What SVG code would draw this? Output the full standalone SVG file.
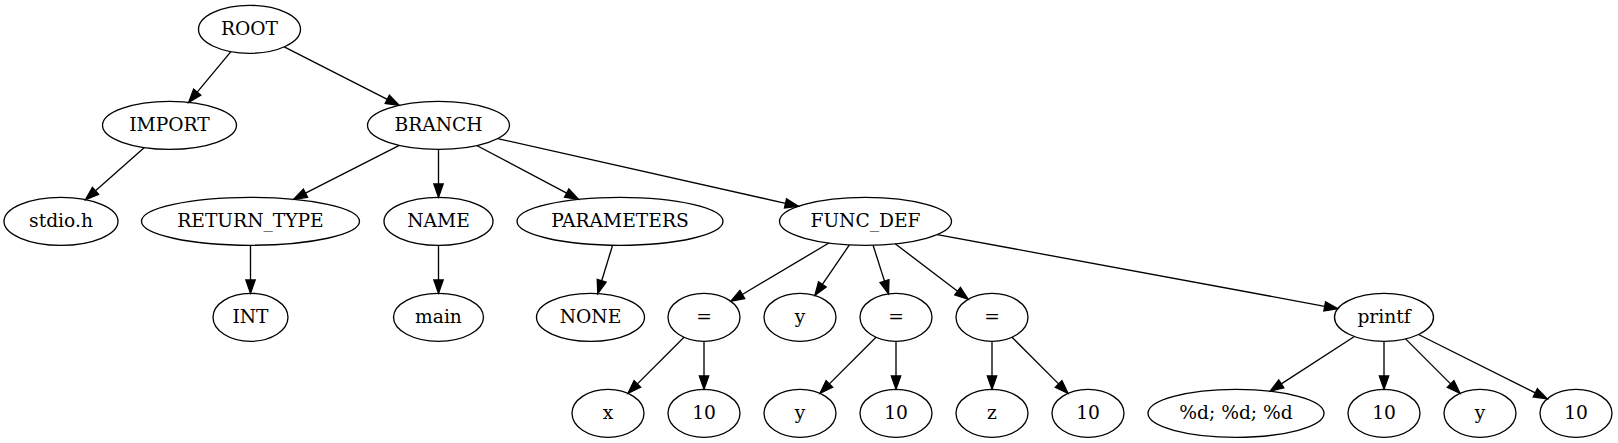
<svg xmlns="http://www.w3.org/2000/svg" width="1618" height="443" viewBox="0 0 1618 443">
<style>
ellipse{fill:none;stroke:#000;stroke-width:1.33}
text{font-family:"DejaVu Serif","Liberation Serif",serif;font-size:18.67px;text-anchor:middle;fill:#000}
.e line{stroke:#000;stroke-width:1.33;marker-end:url(#ah)}
</style>
<defs>
<marker id="ah" markerUnits="userSpaceOnUse" viewBox="-1 -6 16 12" markerWidth="16" markerHeight="12" refX="0" refY="0" orient="auto" overflow="visible">
<path d="M0,-4.67 L13.33,0 L0,4.67 z" fill="#000" stroke="#000" stroke-width="1.33"/>
</marker>
</defs>
<rect width="1618" height="443" fill="#fff"/>
<g class="e" id="edges">
<line x1="230.9" y1="51.6" x2="197.2" y2="92.1"/>
<line x1="284.2" y1="46.9" x2="387.3" y2="99.3"/>
<line x1="144.4" y1="147.6" x2="95.5" y2="190.8"/>
<line x1="399.3" y1="145.3" x2="305.5" y2="193.2"/>
<line x1="438.5" y1="149.3" x2="438.5" y2="184"/>
<line x1="476.7" y1="145.5" x2="566.7" y2="193.1"/>
<line x1="497.6" y1="138.6" x2="785.5" y2="203.3"/>
<line x1="612.6" y1="245.2" x2="601.7" y2="280.8"/>
<line x1="250.5" y1="245.3" x2="250.5" y2="280"/>
<line x1="438.5" y1="245.3" x2="438.5" y2="280"/>
<line x1="828.9" y1="243.0" x2="742.3" y2="294.5"/>
<line x1="849.4" y1="244.9" x2="822.4" y2="284.4"/>
<line x1="873.1" y1="245.2" x2="884.5" y2="281.1"/>
<line x1="895.2" y1="243.8" x2="957.6" y2="291.2"/>
<line x1="937.2" y1="234.6" x2="1324.7" y2="306.3"/>
<line x1="684.0" y1="337.3" x2="637.4" y2="383.9"/>
<line x1="704" y1="341.3" x2="704" y2="376"/>
<line x1="876.0" y1="337.3" x2="829.4" y2="383.9"/>
<line x1="896" y1="341.3" x2="896" y2="376"/>
<line x1="992" y1="341.3" x2="992" y2="376"/>
<line x1="1012.0" y1="337.3" x2="1058.6" y2="383.9"/>
<line x1="1354.4" y1="336.5" x2="1281.3" y2="383.9"/>
<line x1="1384" y1="341.3" x2="1384" y2="376"/>
<line x1="1405.6" y1="338.9" x2="1450.6" y2="383.9"/>
<line x1="1418.5" y1="334.5" x2="1535.3" y2="392.9"/>
</g>
<g id="root"><ellipse cx="249.5" cy="29.3" rx="51" ry="24"/><text x="249.5" y="35.3">ROOT</text></g>
<g id="import"><ellipse cx="169.5" cy="125.3" rx="67" ry="24"/><text x="169.5" y="131.3">IMPORT</text></g>
<g id="branch"><ellipse cx="438.5" cy="125.3" rx="71" ry="24"/><text x="438.5" y="131.3">BRANCH</text></g>
<g id="stdio"><ellipse cx="61" cy="221.3" rx="57" ry="24"/><text x="61" y="227.3">stdio.h</text></g>
<g id="return_type"><ellipse cx="250.5" cy="221.3" rx="109" ry="24"/><text x="250.5" y="227.3">RETURN_TYPE</text></g>
<g id="name"><ellipse cx="438.5" cy="221.3" rx="54.5" ry="24"/><text x="438.5" y="227.3">NAME</text></g>
<g id="parameters"><ellipse cx="620" cy="221.3" rx="103" ry="24"/><text x="620" y="227.3">PARAMETERS</text></g>
<g id="func_def"><ellipse cx="865.5" cy="221.3" rx="86" ry="24"/><text x="865.5" y="227.3">FUNC_DEF</text></g>
<g id="int"><ellipse cx="250.5" cy="317.3" rx="37.5" ry="24"/><text x="250.5" y="323.3">INT</text></g>
<g id="main"><ellipse cx="438.5" cy="317.3" rx="45" ry="24"/><text x="438.5" y="323.3">main</text></g>
<g id="none"><ellipse cx="590.5" cy="317.3" rx="54" ry="24"/><text x="590.5" y="323.3">NONE</text></g>
<g id="eq1"><ellipse cx="704" cy="317.3" rx="36" ry="24"/><text x="704" y="323.3">=</text></g>
<g id="y1"><ellipse cx="800" cy="317.3" rx="36" ry="24"/><text x="800" y="323.3">y</text></g>
<g id="eq2"><ellipse cx="896" cy="317.3" rx="36" ry="24"/><text x="896" y="323.3">=</text></g>
<g id="eq3"><ellipse cx="992" cy="317.3" rx="36" ry="24"/><text x="992" y="323.3">=</text></g>
<g id="printf"><ellipse cx="1384" cy="317.3" rx="49.5" ry="24"/><text x="1384" y="323.3">printf</text></g>
<g id="x"><ellipse cx="608" cy="413.3" rx="36" ry="24"/><text x="608" y="419.3">x</text></g>
<g id="n10a"><ellipse cx="704" cy="413.3" rx="36" ry="24"/><text x="704" y="419.3">10</text></g>
<g id="y2"><ellipse cx="800" cy="413.3" rx="36" ry="24"/><text x="800" y="419.3">y</text></g>
<g id="n10b"><ellipse cx="896" cy="413.3" rx="36" ry="24"/><text x="896" y="419.3">10</text></g>
<g id="z"><ellipse cx="992" cy="413.3" rx="36" ry="24"/><text x="992" y="419.3">z</text></g>
<g id="n10c"><ellipse cx="1088" cy="413.3" rx="36" ry="24"/><text x="1088" y="419.3">10</text></g>
<g id="fmt"><ellipse cx="1236" cy="413.3" rx="88" ry="24"/><text x="1236" y="419.3">%d; %d; %d</text></g>
<g id="n10d"><ellipse cx="1384" cy="413.3" rx="36" ry="24"/><text x="1384" y="419.3">10</text></g>
<g id="y3"><ellipse cx="1480" cy="413.3" rx="36" ry="24"/><text x="1480" y="419.3">y</text></g>
<g id="n10e"><ellipse cx="1576" cy="413.3" rx="36" ry="24"/><text x="1576" y="419.3">10</text></g>
</svg>
